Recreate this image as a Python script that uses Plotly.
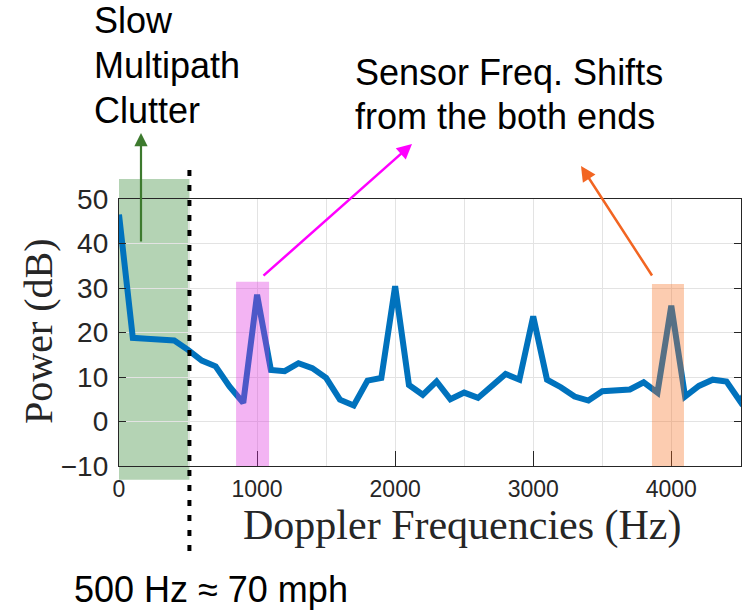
import plotly.graph_objects as go

# ---- data ----
freq_hz = [0, 100, 200, 300, 400, 500, 600, 700, 800, 900,
           1000, 1100, 1200, 1300, 1400, 1500, 1600, 1700, 1800, 1900,
           2000, 2100, 2200, 2300, 2400, 2500, 2600, 2700, 2800, 2900,
           3000, 3100, 3200, 3300, 3400, 3500, 3600, 3700, 3800, 3900,
           4000, 4100, 4200, 4300, 4400, 4500, 4600]
power_db = [46.5, 18.8, 18.6, 18.4, 18.2, 16.1, 13.7, 12.4, 7.9, 4.2,
            28.5, 11.6, 11.3, 13.1, 12.0, 9.8, 4.9, 3.6, 9.2, 9.8,
            30.4, 8.2, 6.0, 9.0, 5.0, 6.5, 5.3, 8.0, 10.7, 9.4,
            23.6, 9.4, 7.7, 5.6, 4.7, 6.8, 7.1, 7.2, 8.8, 6.5,
            26.0, 5.6, 8.0, 9.4, 9.0, 4.5, 10.0]
x_ticks = [0, 1000, 2000, 3000, 4000]
y_ticks = [-10, 0, 10, 20, 30, 40, 50]
x_range = [0, 4505]
y_range = [-10, 50]

clutter_band = [0, 510]          # Hz
clutter_db = [-13.1, 54.5]       # dB extent of the band (goes beyond axes)
speed_line_hz = 510
shift_band_low = [848, 1087]
shift_band_low_top = 31.4
shift_band_high = [3860, 4092]
shift_band_high_top = 30.9

# ---- layout geometry (pixels) ----
W, H = 743, 612
L, R, T, B = 119, 741, 199, 466


def px(x):
    return (x - L) / (R - L)


def py(y):
    return (B - y) / (B - T)


def db2paper(v):
    return (v - y_range[0]) / (y_range[1] - y_range[0])


fig = go.Figure()
fig.add_trace(go.Scatter(x=freq_hz, y=power_db, mode="lines",
                         line=dict(color="#0072BD", width=6),
                         showlegend=False, hoverinfo="skip"))

shapes = [
    dict(type="rect", xref="x", yref="paper",
         x0=clutter_band[0], x1=clutter_band[1],
         y0=db2paper(clutter_db[0]), y1=db2paper(clutter_db[1]),
         fillcolor="rgba(40,130,40,0.35)", line=dict(width=0), layer="below"),
    dict(type="rect", xref="x", yref="y",
         x0=shift_band_low[0], x1=shift_band_low[1],
         y0=y_range[0], y1=shift_band_low_top,
         fillcolor="rgba(220,40,220,0.35)", line=dict(width=0), layer="above"),
    dict(type="rect", xref="x", yref="y",
         x0=shift_band_high[0], x1=shift_band_high[1],
         y0=y_range[0], y1=shift_band_high_top,
         fillcolor="rgba(245,110,30,0.35)", line=dict(width=0), layer="above"),
    dict(type="line", xref="x", yref="paper",
         x0=speed_line_hz, x1=speed_line_hz, y0=py(170), y1=py(557),
         line=dict(color="black", width=4, dash="6px,9px"), layer="above"),
]

sans = "Liberation Sans, Arial, sans-serif"
serif = "Liberation Serif, Times New Roman, serif"

annotations = []


def text_ann(txt, x, y, size=36, xanchor="left", font=sans, angle=0, color="black"):
    annotations.append(dict(text=txt, xref="paper", yref="paper", x=px(x), y=py(y),
                            xanchor=xanchor, yanchor="middle", showarrow=False,
                            textangle=angle,
                            font=dict(family=font, size=size, color=color)))


text_ann("Slow", 92, 21)
text_ann("Multipath", 92, 66)
text_ann("Clutter", 92, 110)
text_ann("Sensor Freq. Shifts", 353, 73)
text_ann("from the both ends", 353, 117)
text_ann("500 Hz \u2248 70 mph", 72, 589)
text_ann("Doppler Frequencies (Hz)", 462, 525, size=42, xanchor="center",
         font=serif, color="#262626")
text_ann("Power (dB)", 38, 331, size=40, xanchor="center", font=serif,
         angle=-90, color="#262626")


def arrow(tip, tail, color, width=2.5):
    annotations.append(dict(text="", xref="paper", yref="paper",
                            x=px(tip[0]), y=py(tip[1]),
                            ax=tail[0] - tip[0], ay=tail[1] - tip[1],
                            showarrow=True, arrowhead=2, arrowsize=1.2,
                            arrowwidth=width, arrowcolor=color, standoff=0))


arrow((141, 133), (141, 243), "#3d7a2e", 2.2)
arrow((412, 144), (262, 277), "#ff00ff", 2.5)
arrow((581, 166), (653, 277), "#f26522", 2.5)

axis_common = dict(showline=True, linecolor="#262626", linewidth=1.3,
                   gridcolor="#e3e3e3", gridwidth=1, zeroline=False,
                   ticks="inside", tickcolor="#262626",
                   tickfont=dict(family=sans, color="#262626"))

fig.update_layout(
    width=W, height=H,
    margin=dict(l=L, r=W - R, t=T, b=H - B),
    paper_bgcolor="white", plot_bgcolor="rgba(0,0,0,0)",
    shapes=shapes, annotations=annotations,
    xaxis=dict(range=x_range, tickmode="array", tickvals=x_ticks,
               ticklen=15, mirror=True,
               minor=dict(tickmode="linear", tick0=0, dtick=500, showgrid=True,
                          gridcolor="#e3e3e3", ticks=""),
               **axis_common),
    yaxis=dict(range=y_range, tickmode="array", tickvals=y_ticks,
               ticklen=7, mirror="ticks", **axis_common),
)
fig.update_xaxes(tickfont_size=23, ticklabelstandoff=2)
fig.update_yaxes(tickfont_size=28, ticklabelstandoff=4)

fig.write_html("out.html", config={"displayModeBar": False},
               post_script="document.body.style.margin='0';"
                           "document.body.style.padding='0';")
